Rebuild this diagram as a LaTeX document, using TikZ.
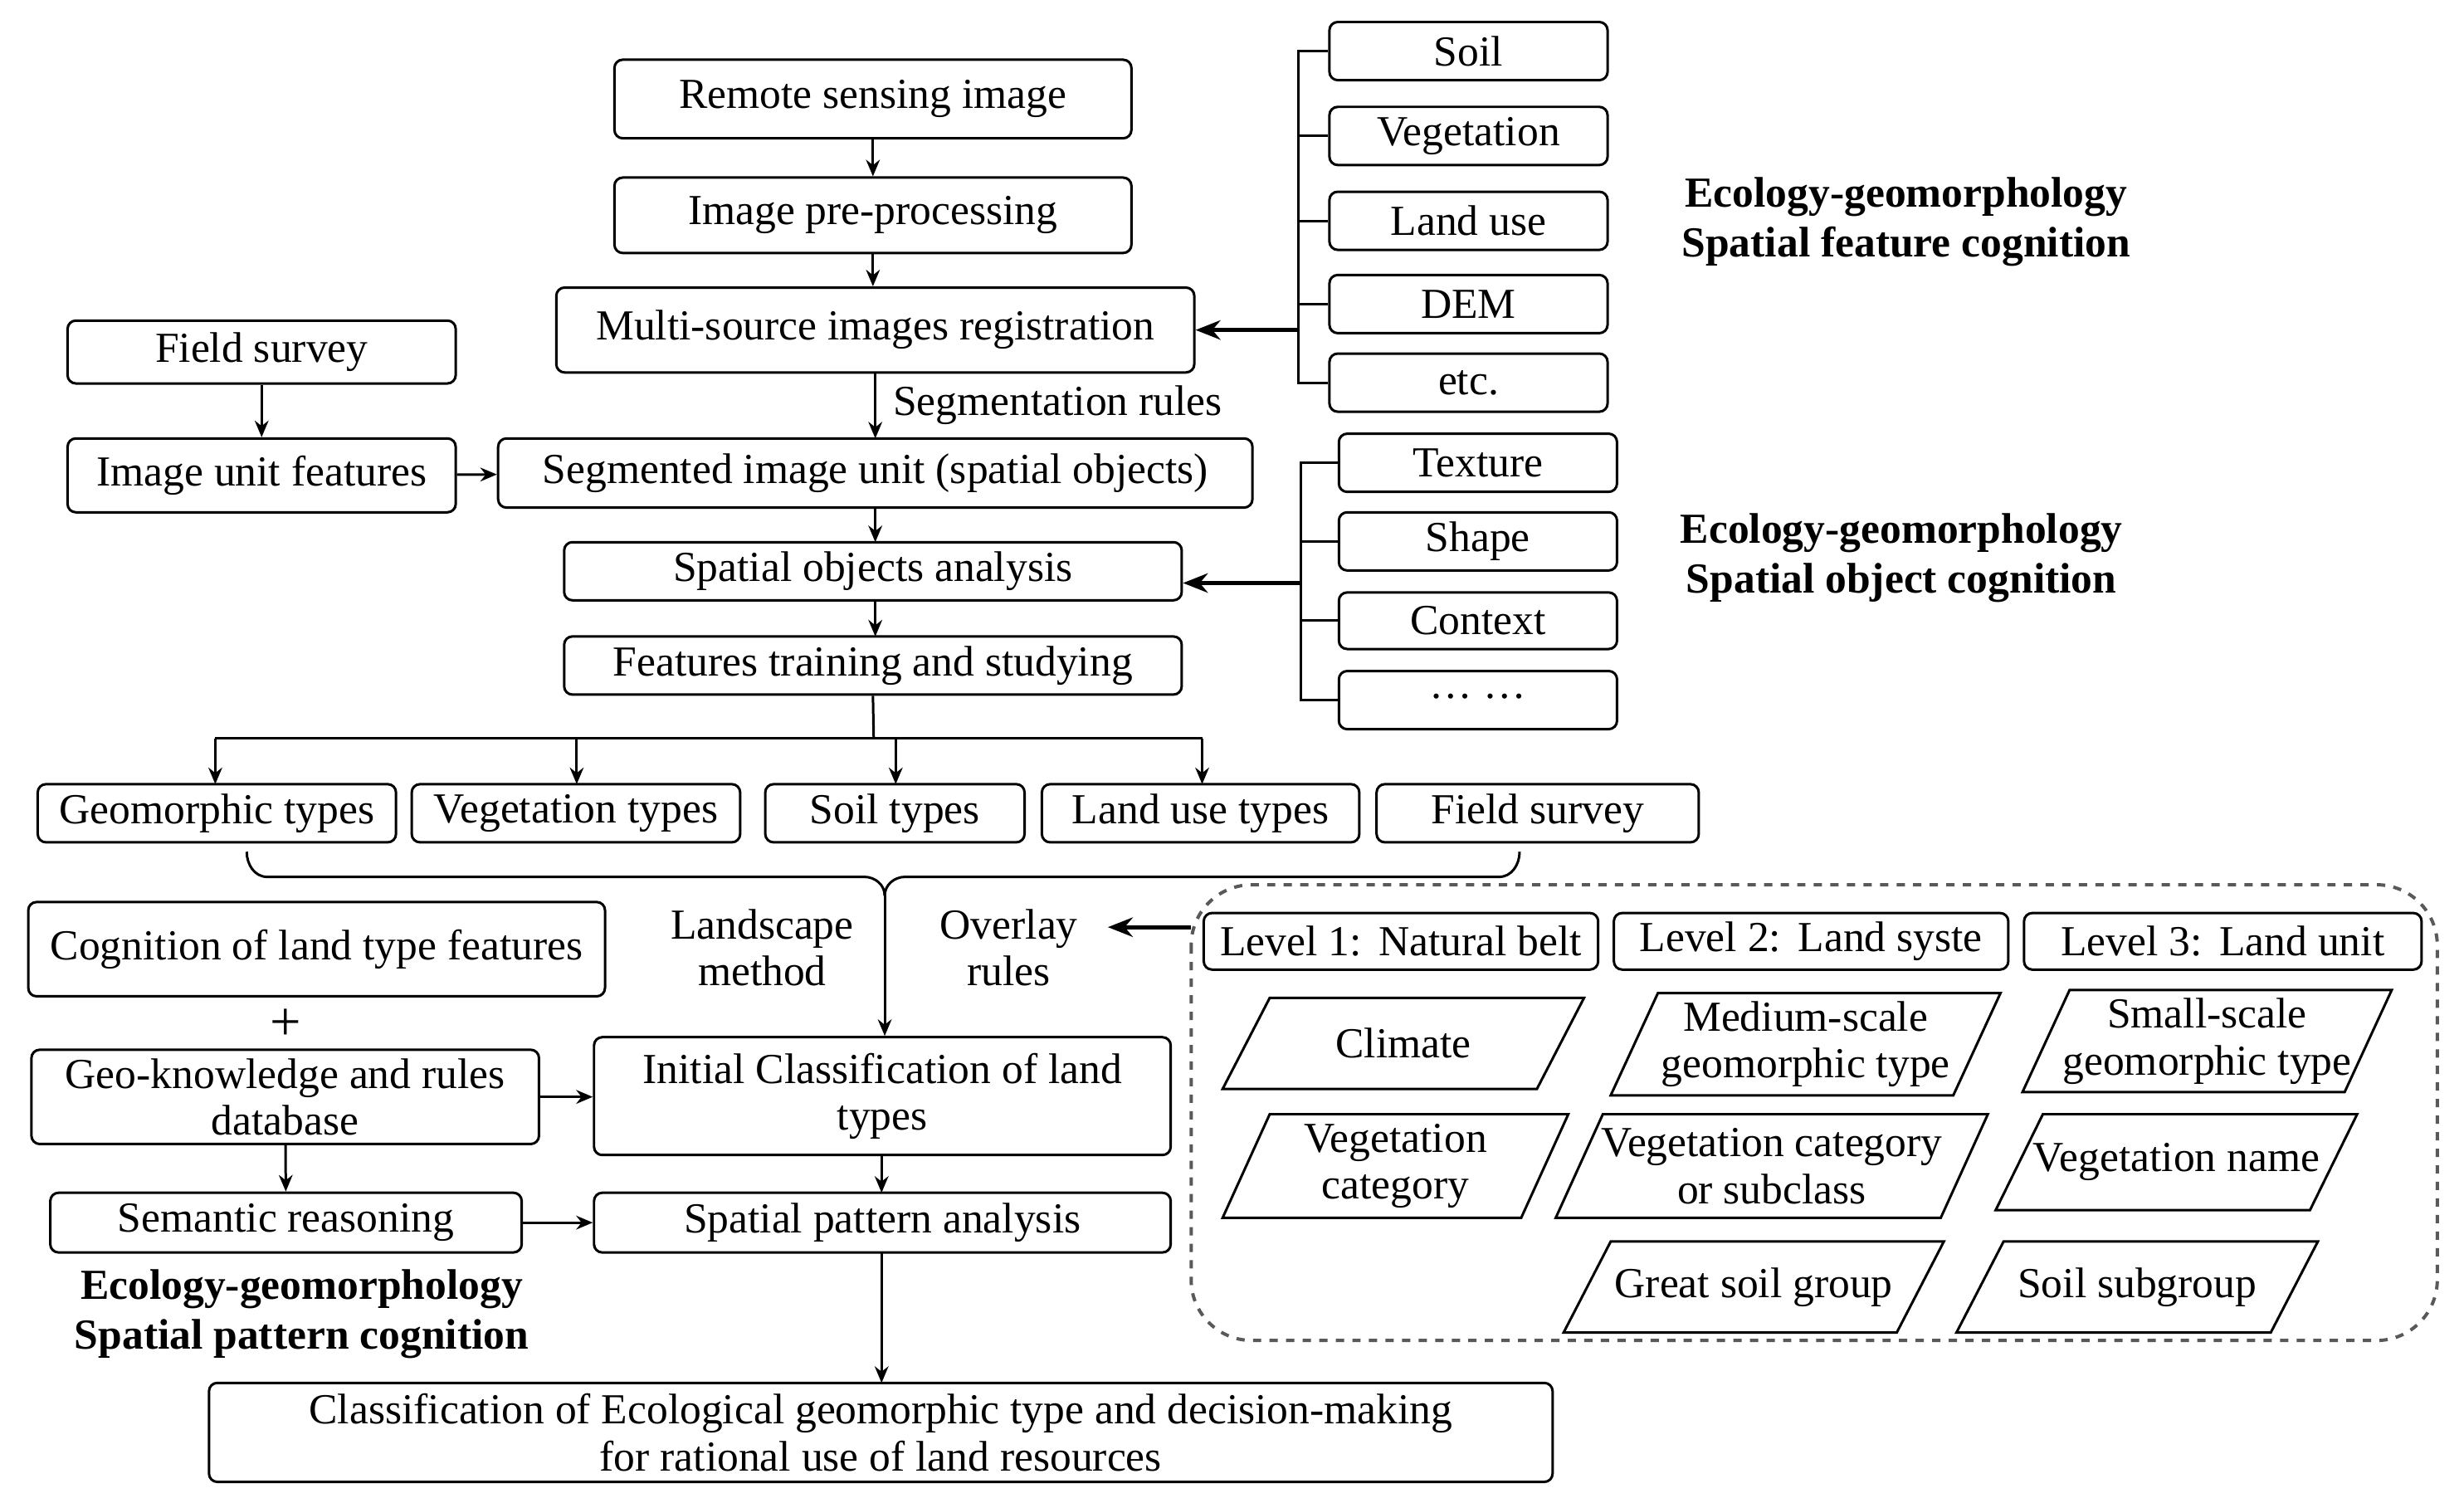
\documentclass[tikz,border=0pt]{standalone}
\usepackage{fontspec}
\setmainfont{Liberation Serif}
\usetikzlibrary{arrows.meta}
\newcommand\bx[6]{\node[box,minimum width={(#4-#2)*0.02cm},minimum height={(#5-#3)*0.02cm}] (#1) at ({(#2+#4)/2},{(#3+#5)/2}) {#6};}
\newcommand\pg[6]{\draw[line width=0.9pt] (#2+30,#3) -- (#4,#3) -- (#4-30,#5) -- (#2,#5) -- cycle;
 \node[txt] (#1) at ({(#2+#4)/2},{(#3+#5)/2}) {#6};}
\begin{document}
\begin{tikzpicture}[x=0.02cm,y=-0.02cm,
 box/.style={draw,line width=0.9pt,rounded corners=3pt,inner sep=0pt,align=center,font=\fontsize{15.5}{17}\selectfont},
 txt/.style={inner sep=0pt,align=center,font=\fontsize{15.5}{17}\selectfont},
 lbl/.style={inner sep=0pt,align=center,font=\fontsize{15.5}{18}\selectfont\bfseries},
 ar/.style={-{Stealth[length=6pt,width=5pt]},line width=0.9pt},
 tar/.style={-{Stealth[length=9pt,width=7pt]},line width=1.6pt},
 ln/.style={line width=0.9pt}]
\useasboundingbox (0,0) rectangle (1568,956);
\bx{rs}{391}{38}{720}{88}{Remote sensing image}
\bx{pre}{391}{113}{720}{161}{Image pre-processing}
\bx{reg}{354}{183}{760}{237}{Multi-source images registration}
\bx{fs1}{43}{204}{290}{244}{Field survey}
\bx{iuf}{43}{279}{290}{326}{Image unit features}
\bx{seg}{317}{279}{797}{323}{Segmented image unit (spatial objects)}
\bx{soa}{359}{345}{752}{382}{Spatial objects analysis}
\bx{ftr}{359}{405}{752}{442}{Features training and studying}
\bx{soil}{846}{14}{1023}{51}{Soil}
\bx{veg}{846}{68}{1023}{105}{Vegetation}
\bx{lu}{846}{122}{1023}{159}{Land use}
\bx{dem}{846}{175}{1023}{212}{DEM}
\bx{etc}{846}{225}{1023}{262}{etc.}
\bx{tex}{852}{276}{1029}{313}{Texture}
\bx{sha}{852}{326}{1029}{363}{Shape}
\bx{con}{852}{377}{1029}{413}{Context}
\bx{dots}{852}{427}{1029}{464}{\raisebox{3pt}{\dots\ \dots}}
\node[lbl] (l1) at (1213,141) {Ecology-geomorphology\\Spatial feature cognition};
\node[lbl] (l2) at (1210,355) {Ecology-geomorphology\\Spatial object cognition};
\node[lbl] (l3) at (192,836) {Ecology-geomorphology\\Spatial pattern cognition};
% bracket 1
\draw[ln] (soil.west) -- (826,32.5) -- (826,243.5) -- (etc.west);
\foreach \n in {veg,lu,dem} \draw[ln] (826,0|-\n.west) -- (\n.west);
\draw[tar] (826,210) -- (reg.east|-0,210);
% bracket 2
\draw[ln] (tex.west) -- (828,294.5) -- (828,445.5) -- (dots.west);
\foreach \n in {sha,con} \draw[ln] (828,0|-\n.west) -- (\n.west);
\draw[tar] (828,371) -- (soa.east|-0,371);
% main arrows
\draw[ar] (rs) -- (pre);
\draw[ar] (pre) -- (pre|-reg.north);
\draw[ar] (557,237) -- (557,279) node[txt,pos=0.5,right=6pt] (segr) {Segmentation rules};
\draw[ar] (fs1) -- (iuf);
\draw[ar] (iuf) -- (seg);
\draw[ar] (557,323) -- (557,345);
\draw[ar] (557,382) -- (557,405);
% types
\bx{geo}{24}{499}{252}{536}{Geomorphic types}
\bx{vt}{262}{499}{471}{536}{Vegetation types}
\bx{st}{487}{499}{652}{536}{Soil types}
\bx{lut}{663}{499}{865}{536}{Land use types}
\bx{fs2}{876}{499}{1081}{536}{Field survey}
\coordinate (j) at (556,470);
\draw[ln] (ftr.south) -- (j);
\draw[ln] (137,470) -- (765,470);
\foreach \x in {137,367,570,765} \draw[ar] (\x,470) -- (\x,499);
% brace
\coordinate (bt) at (563,570);
\draw[ln] (157,542) to[out=-90,in=180] (170,558) -- (550,558) to[out=0,in=90] (bt);
\draw[ln] (967,542) to[out=-90,in=0] (954,558) -- (576,558) to[out=180,in=90] (bt);
\node[txt] (lm) at (485,603) {Landscape\\method};
\node[txt] (or) at (642,603) {Overlay\\rules};
% left bottom
\bx{cog}{18}{574}{385}{634}{Cognition of land type features}
\node[txt,font=\fontsize{20}{20}\selectfont] (plus) at (182,652) {+};
\bx{gk}{20}{668}{343}{728}{Geo-knowledge and rules\\database}
\bx{ini}{378}{660}{745}{735}{Initial Classification of land\\types}
\bx{sem}{32}{759}{332}{797}{Semantic reasoning}
\bx{spa}{378}{759}{745}{797}{Spatial pattern analysis}
\bx{fin}{133}{880}{988}{943}{Classification of Ecological geomorphic type and decision-making\\for rational use of land resources}
\draw[ar] (bt) -- (bt|-ini.north);
\draw[ar] (gk.east) -- (ini.west|-gk.east);
\draw[ar] (gk) -- (sem);
\draw[ar] (sem) -- (spa);
\draw[ar] (561,735) -- (561,759);
\draw[ar] (561,797) -- (561,880);
% dashed box
\draw[line width=1.2pt,dashed,gray!70!black,rounded corners=22pt] (758,563) rectangle (1551,853);
\coordinate (dl) at (758,590);
\draw[tar] (dl) -- (705,590);
\bx{lv1}{766}{581}{1017}{617}{Level 1:\hspace{0.4em}Natural belt}
\bx{lv2}{1027}{581}{1278}{617}{Level 2:\hspace{0.4em}Land syste}
\bx{lv3}{1288}{581}{1541}{617}{Level 3:\hspace{0.4em}Land unit}
\pg{cl}{778}{635}{1008}{693}{Climate}
\pg{ms}{1025}{632}{1273}{697}{Medium-scale\\geomorphic type}
\pg{ss}{1287}{630}{1522}{695}{Small-scale\\geomorphic type}
\pg{vc}{778}{709}{998}{775}{Vegetation\\category}
\pg{vcs}{990}{709}{1265}{775}{Vegetation category\\or subclass}
\pg{vn}{1270}{709}{1500}{770}{Vegetation name}
\pg{gsg}{995}{790}{1237}{848}{Great soil group}
\pg{ssg}{1245}{790}{1475}{848}{Soil subgroup}
\end{tikzpicture}
\end{document}
